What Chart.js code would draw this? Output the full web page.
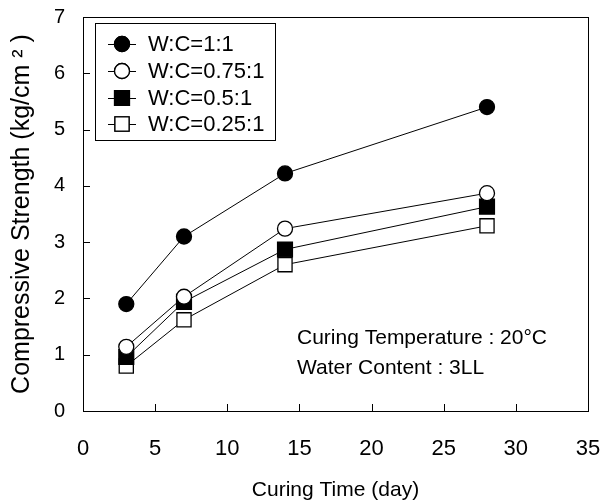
<!DOCTYPE html>
<html>
<head>
<meta charset="utf-8">
<script src="https://cdn.jsdelivr.net/npm/chart.js@4"></script>
<style>
  body { margin: 0; background: #fff; }
  #wrap { width: 609px; height: 503px; }
</style>
</head>
<body>
<div id="wrap"><canvas id="mycanvas"></canvas></div>
<script>
// curing time (day) and compressive strength for each W:C ratio
var days = [3, 7, 14, 28];
var wc100 = [1.9, 3.1, 4.22, 5.4];
var wc075 = [1.14, 2.03, 3.24, 3.87];
var wc050 = [0.96, 1.94, 2.87, 3.63];
var wc025 = [0.8, 1.62, 2.6, 3.29];
var seriesNames = ["W:C=1:1", "W:C=0.75:1", "W:C=0.5:1", "W:C=0.25:1"];
var notes = ["Curing Temperature : 20\u00B0C", "Water Content : 3LL"];

var FONT = "'Liberation Sans', Arial, sans-serif";

function pts(vals) {
  var out = [];
  for (var i in days) out.push({x: days[i], y: vals[i]});
  return out;
}

function ds(label, vals, style, filled, r) {
  return {
    label: label,
    data: pts(vals),
    borderColor: "#000",
    borderWidth: 1,
    backgroundColor: filled ? "#000" : "#fff",
    pointBackgroundColor: filled ? "#000" : "#fff",
    pointBorderColor: "#000",
    pointBorderWidth: 1.3,
    pointStyle: style,
    pointRadius: r,
    fill: false,
    tension: 0
  };
}

var chartdata = {
  datasets: [
    ds(seriesNames[0], wc100, "circle", true, 7.5),
    ds(seriesNames[1], wc075, "circle", false, 7.5),
    ds(seriesNames[2], wc050, "rect", true, 10.5),
    ds(seriesNames[3], wc025, "rect", false, 10)
  ]
};

// frame, inward ticks, legend box and notes
var extras = {
  id: "extras",
  afterDatasetsDraw: function(chart) {
    var c = chart.ctx, a = chart.chartArea;
    var xs = chart.scales.x, ys = chart.scales.y;
    c.save();
    c.strokeStyle = "#000";
    c.lineWidth = 1;
    c.strokeRect(a.left + 0.5, a.top + 0.5, a.right - a.left, a.bottom - a.top);
    c.beginPath();
    xs.ticks.forEach(function(t) {
      var px = Math.round(xs.getPixelForValue(t.value)) + 0.5;
      c.moveTo(px, a.bottom); c.lineTo(px, a.bottom - 7);
    });
    ys.ticks.forEach(function(t) {
      var py = Math.round(ys.getPixelForValue(t.value)) + 0.5;
      c.moveTo(a.left, py); c.lineTo(a.left + 7, py);
    });
    c.stroke();

    // legend
    c.fillStyle = "#fff";
    c.fillRect(95.5, 23.5, 180, 117);
    c.strokeRect(95.5, 23.5, 180, 117);
    c.font = "22px " + FONT;
    c.textBaseline = "middle";
    var rows = [44, 71, 98, 124];
    chart.data.datasets.forEach(function(d, i) {
      var y = rows[i];
      c.beginPath();
      c.moveTo(108, y + 0.5); c.lineTo(136, y + 0.5);
      c.stroke();
      c.fillStyle = d.pointBackgroundColor;
      c.lineWidth = d.pointBorderWidth;
      Chart.helpers.drawPoint(c, {pointStyle: d.pointStyle, radius: d.pointRadius, rotation: 0, borderWidth: d.pointBorderWidth}, 122, y);
      c.fill();
      c.stroke();
      c.lineWidth = 1;
      c.fillStyle = "#000";
      c.fillText(d.label, 148, y + 1);
    });

    c.fillStyle = "#000";
    c.font = "21px " + FONT;
    c.fillText(notes[0], 297, 338);
    c.fillText(notes[1], 297, 368);
    c.restore();
  }
};

var ctx = document.getElementById("mycanvas");
var LineGraph = new Chart(ctx, {
  type: "line",
  data: chartdata,
  plugins: [extras],
  options: {
    responsive: true,
    maintainAspectRatio: false,
    animation: false,
    layout: { padding: { top: 17, right: 21, left: 0, bottom: 0 } },
    plugins: { legend: { display: false }, tooltip: { enabled: false } },
    scales: {
      x: {
        type: "linear",
        min: 0, max: 35,
        ticks: { stepSize: 5, color: "#000", font: { family: FONT, size: 22 }, padding: 25 },
        grid: { display: false, drawTicks: false },
        border: { display: false },
        title: { display: true, text: "Curing Time (day)", color: "#000", font: { family: FONT, size: 21 }, padding: { top: 4, bottom: 0 } },
        afterFit: function(s) { s.height = 92; s.paddingLeft = 0; s.paddingRight = 0; }
      },
      y: {
        min: 0, max: 7,
        ticks: { stepSize: 1, color: "#000", font: { family: FONT, size: 20 }, padding: 18 },
        grid: { display: false, drawTicks: false },
        border: { display: false },
        title: { display: true, text: "Compressive Strength (kg/cm \u00B2 )", color: "#000", font: { family: FONT, size: 25 }, padding: { top: 7, bottom: 0 } },
        afterFit: function(s) { s.width = 83; s.paddingTop = 0; s.paddingBottom = 0; }
      }
    }
  }
});
</script>
</body>
</html>
